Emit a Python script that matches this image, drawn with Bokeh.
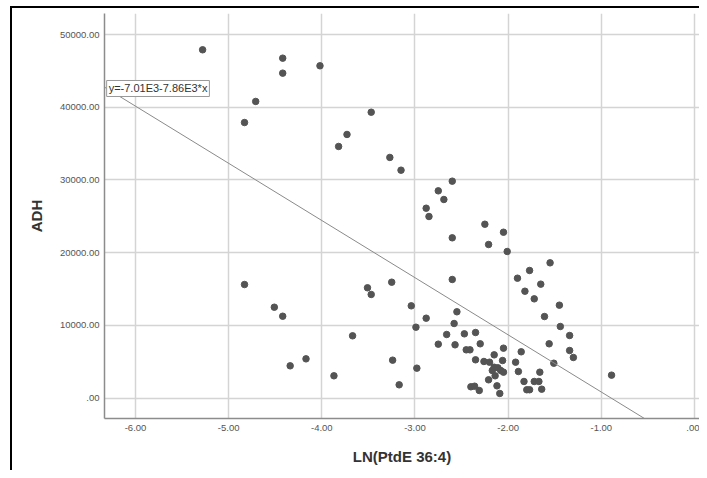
from bokeh.plotting import figure
from bokeh.layouts import column
from bokeh.models import Range1d, FixedTicker, Slope, Label
from bokeh.embed import file_html
from bokeh.resources import INLINE

# Data (x = LN(PtdE 36:4), y = ADH)
ln_ptde = [-5.28, -4.42, -4.42, -4.02, -4.71, -4.83, -3.73, -3.82, -3.47, -3.27,
           -3.15, -2.60, -2.75, -2.69, -2.88, -2.85, -2.25, -2.05, -2.60, -2.21,
           -2.01, -1.55, -1.77, -1.90, -1.65, -2.60, -1.82, -1.72, -3.25, -3.51,
           -3.47, -1.45, -3.04, -2.55, -2.88, -1.61, -2.58, -2.99, -1.44, -3.67,
           -2.66, -2.47, -2.35, -1.34, -2.75, -2.57, -2.30, -1.56, -2.05, -2.45,
           -2.41, -1.86, -1.34, -1.30, -2.15, -3.24, -2.35, -2.26, -2.20, -2.06,
           -1.92, -1.51, -2.98, -1.89, -1.66, -0.89, -3.17, -1.83, -1.72, -1.67,
           -1.64, -1.80, -1.77, -2.40, -2.36, -2.31, -2.12, -2.09, -2.21, -2.14,
           -2.15, -2.11, -2.08, -2.05, -2.17, -4.83, -4.51, -4.42, -4.17, -4.34,
           -3.87]
adh = [47900, 46750, 44690, 45700, 40800, 37900, 36260, 34610, 39320, 33100,
       31350, 29840, 28510, 27320, 26120, 24980, 23920, 22820, 22050, 21130,
       20170, 18610, 17560, 16500, 15680, 16320, 14710, 13660, 15950, 15180,
       14260, 12790, 12700, 11880, 11000, 11230, 10270, 9760, 9860, 8580,
       8760, 8850, 9030, 8620, 7430, 7340, 7480, 7480, 6880, 6650,
       6650, 6380, 6560, 5600, 5960, 5230, 5280, 5050, 4950, 5180,
       4950, 4810, 4130, 3670, 3580, 3170, 1840, 2300, 2300, 2300,
       1240, 1160, 1160, 1570, 1650, 1060, 1700, 650, 2530, 3080,
       4260, 4180, 3810, 3580, 3810, 15630, 12510, 11270, 5410, 4450,
       3080]

# Fit line: y = -7.01E3 - 7.86E3 * x
fit_intercept = -7010
fit_slope = -7860
fit_label = "y=-7.01E3-7.86E3*x"

x_ticks = [-6.0, -5.0, -4.0, -3.0, -2.0, -1.0, 0.0]
y_ticks = [0, 10000, 20000, 30000, 40000, 50000]


def spss_fmt(v):
    s = f"{v:.2f}"
    if s.startswith("0."):
        s = s[1:]
    if s.startswith("-0."):
        s = "-" + s[2:]
    return s


FONT = "Liberation Sans"

p = figure(width=699, height=470, output_backend="svg", toolbar_location=None,
           x_range=Range1d(-6.333, 0.054), y_range=Range1d(-2790, 52890),
           min_border_left=104, min_border_right=0, min_border_top=13,
           min_border_bottom=52)

p.border_fill_color = None
p.outline_line_color = None
p.background_fill_color = "white"

p.xgrid.grid_line_color = "#d4d4d4"
p.ygrid.grid_line_color = "#d4d4d4"
p.xgrid.grid_line_width = 1.5
p.ygrid.grid_line_width = 1.5

p.xaxis.ticker = FixedTicker(ticks=x_ticks)
p.yaxis.ticker = FixedTicker(ticks=y_ticks)
p.xaxis.major_label_overrides = {t: spss_fmt(t) for t in x_ticks}
p.yaxis.major_label_overrides = {t: spss_fmt(t) for t in y_ticks}

for ax in (p.xaxis, p.yaxis):
    ax.axis_line_color = "#8c8c8c"
    ax.axis_line_width = 1.5
    ax.major_tick_line_color = None
    ax.minor_tick_line_color = None
    ax.major_tick_out = 0
    ax.major_tick_in = 0
    ax.major_label_text_font = FONT
    ax.major_label_text_font_size = "9.5px"
    ax.major_label_text_color = "#555555"
    ax.axis_label_text_font = FONT
    ax.axis_label_text_font_style = "bold"
    ax.axis_label_text_font_size = "15px"
    ax.axis_label_text_color = "#333333"

p.xaxis.axis_label = "LN(PtdE 36:4)"
p.yaxis.axis_label = "ADH"
p.xaxis.major_label_standoff = 6
p.yaxis.major_label_standoff = 5
p.xaxis.axis_label_standoff = 14
p.yaxis.axis_label_standoff = 12

p.scatter(ln_ptde, adh, size=6.5, fill_color="#545454", line_color="#545454")

p.add_layout(Slope(gradient=fit_slope, y_intercept=fit_intercept,
                   line_color="#8a8a8a", line_width=1))

p.add_layout(Label(x=-6.31, y=43680, text=fit_label, anchor="top_left",
                   text_font=FONT, text_font_size="11px", text_color="#333333",
                   background_fill_color="white", border_line_color="#999999",
                   border_line_width=1, padding=2))

# outer black frame of the exported picture (only left and top edges visible),
# painted as the wrapper's background behind the transparent figure border
layout = column(p, width=699, height=470)
layout.styles = {
    "background-color": "#ffffff",
    "background-image": "linear-gradient(#000, #000), linear-gradient(#000, #000)",
    "background-position": "10px 6px, 10px 6px",
    "background-size": "2px 464px, 689px 2px",
    "background-repeat": "no-repeat, no-repeat",
}

open("out.html", "w").write(file_html(layout, INLINE))
